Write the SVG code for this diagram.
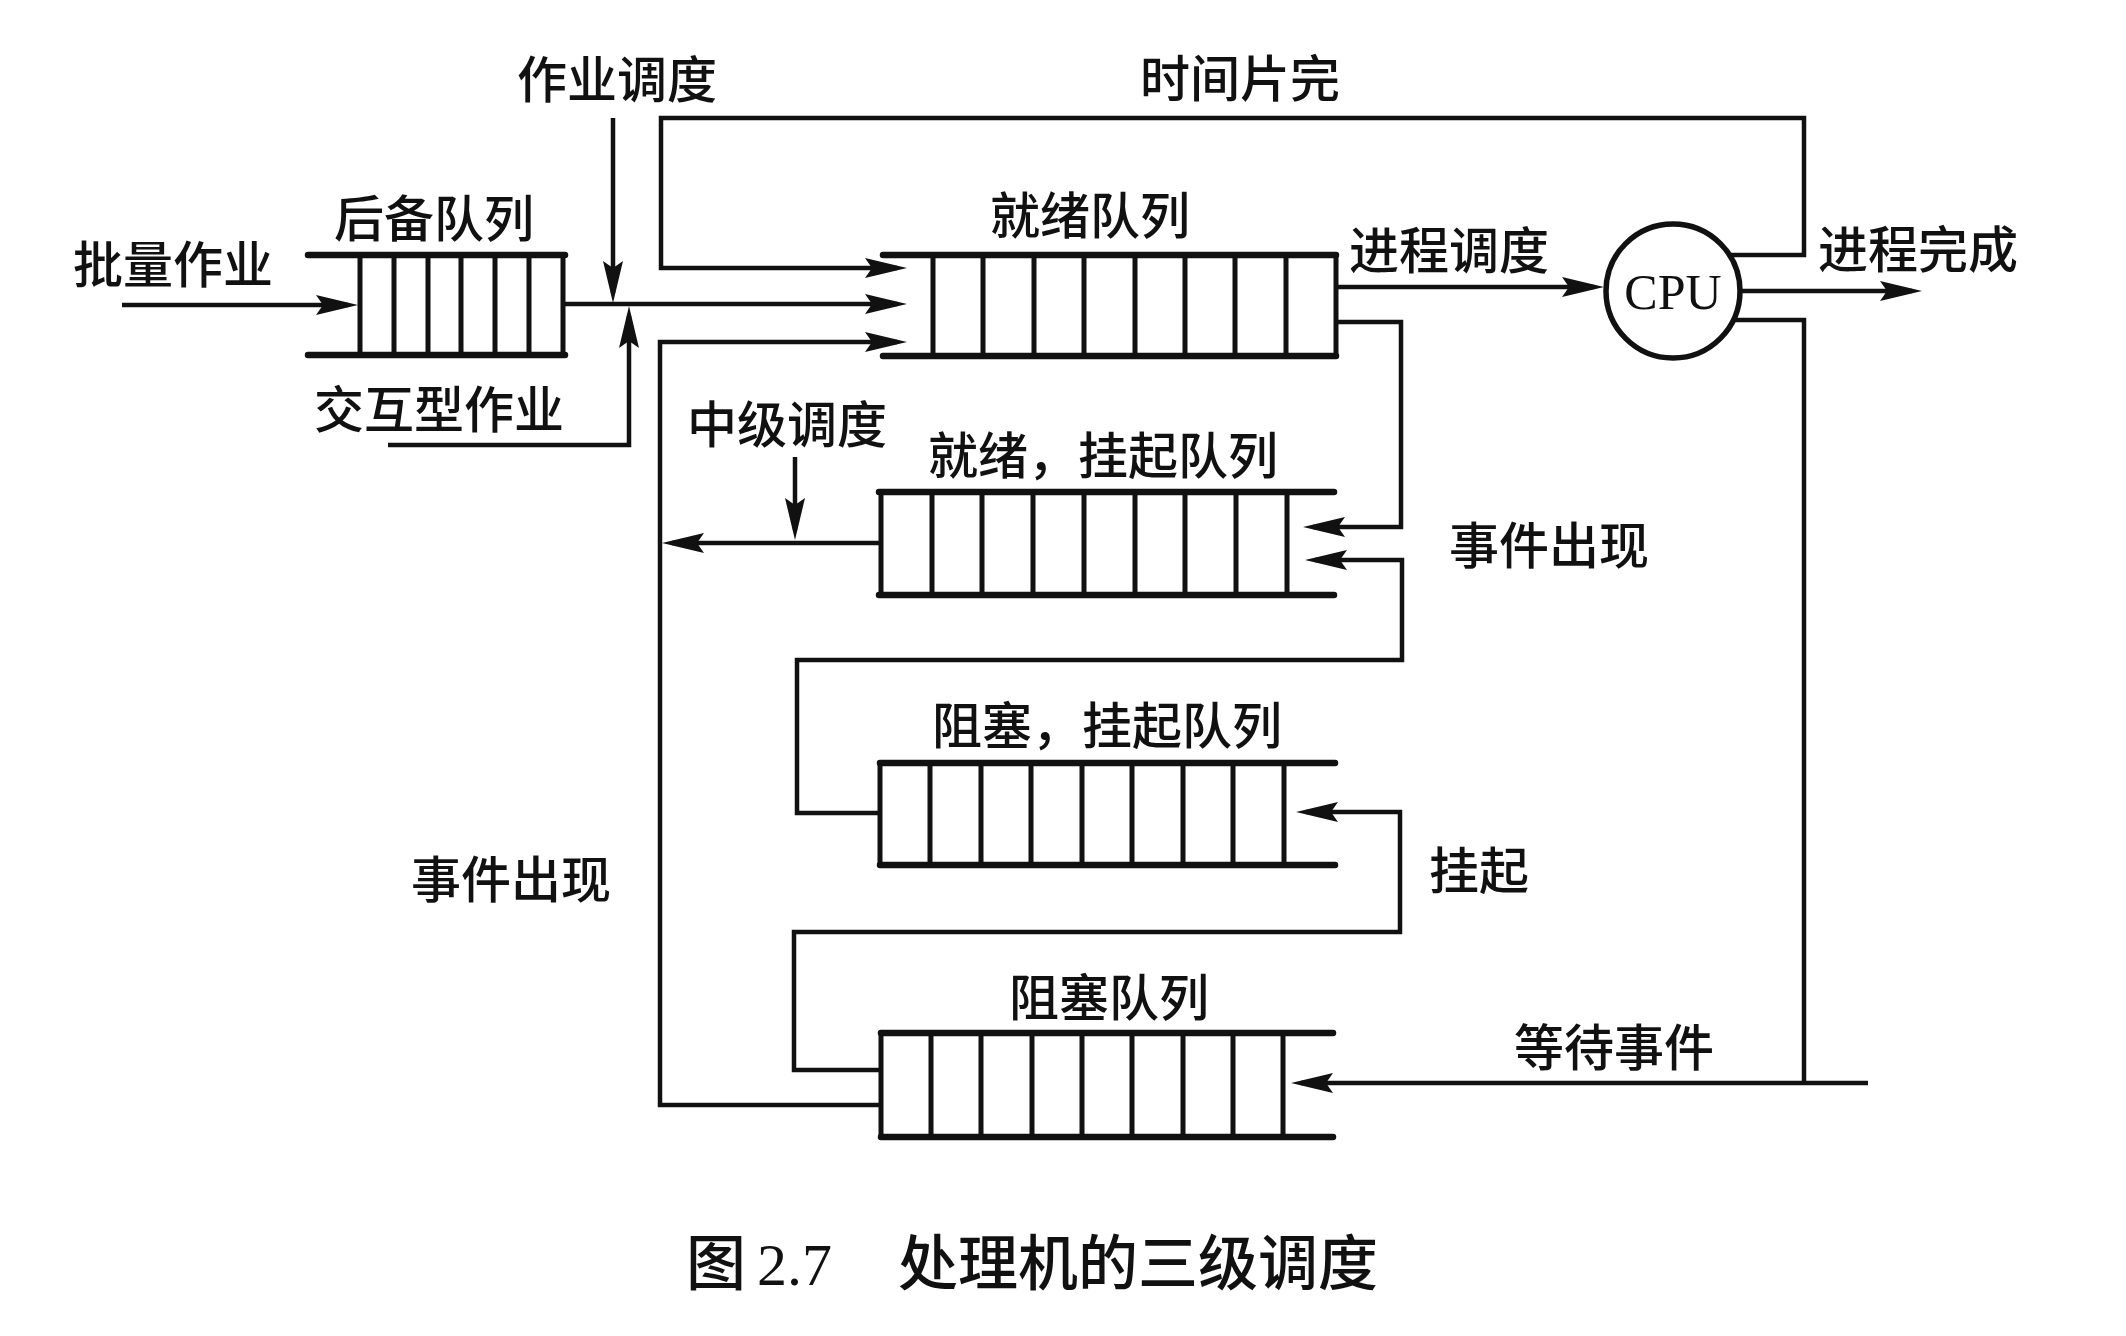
<svg xmlns="http://www.w3.org/2000/svg" width="2126" height="1336" viewBox="0 0 2126 1336">
<style>
.bg{fill:#fff}
.ln{fill:none;stroke:#111;stroke-width:4.5;stroke-linejoin:miter}
.arr{fill:none;stroke:#111;stroke-width:4.5;marker-end:url(#ah)}
.qline{fill:none;stroke:#111;stroke-width:6.5;stroke-linecap:round}
.qdiv{fill:none;stroke:#111;stroke-width:5}
.t{font-family:"Noto Sans CJK SC","Noto Sans",sans-serif;font-size:50px;font-weight:500;fill:#111}
.cap{font-family:"Noto Sans CJK SC","Noto Sans",sans-serif;font-size:60px;font-weight:500;fill:#111}
.serif{font-family:"Liberation Serif","Noto Sans CJK SC",serif;font-weight:400}
</style>
<defs>
<marker id="ah" markerUnits="userSpaceOnUse" markerWidth="44" markerHeight="22" refX="32" refY="11" orient="auto">
<path d="M0,1 L42,11 L0,21 L7,11 Z" fill="#111"/>
</marker>
</defs>
<rect class="bg" x="0" y="0" width="2126" height="1336"/>

<g id="connectors">
<path class="arr" d="M122,305 H348"/>
<path class="arr" d="M565,304 H897"/>
<path class="arr" d="M613,118 V293"/>
<path class="arr" d="M388,445 H629 V316"/>
<path class="arr" d="M1730,255 H1804 V118 H661 V268 H897"/>
<path class="arr" d="M881,1105 H660 V342 H897"/>
<path class="arr" d="M1336,287 H1594"/>
<path class="arr" d="M1740,291 H1912"/>
<path class="arr" d="M1336,322 H1401 V527 H1313"/>
<path class="arr" d="M881,543 H672"/>
<path class="arr" d="M795,457 V530"/>
<path class="arr" d="M880,813 H797 V660 H1402 V560 H1315"/>
<path class="arr" d="M881,1070 H794 V932 H1400 V812 H1306"/>
<path class="arr" d="M1868,1083 H1301"/>
<path class="ln" d="M1733,320 H1804 V1083"/>
</g>

<g id="labels">
<text class="t" x="517" y="98">作业调度</text>
<text class="t" x="1140" y="97">时间片完</text>
<text class="t" x="73" y="283">批量作业</text>
<text class="t" x="314" y="428">交互型作业</text>
<text class="t" x="1349" y="269">进程调度</text>
<text class="t" x="1818" y="268">进程完成</text>
<text class="t" x="687" y="443">中级调度</text>
<text class="t" x="1449" y="564">事件出现</text>
<text class="t" x="1429" y="889">挂起</text>
<text class="t" x="411" y="898">事件出现</text>
<text class="t" x="1514" y="1066">等待事件</text>
</g>

<g id="backup-queue">
<path class="qline" d="M308,255 H565 M308,355 H565"/>
<path class="qdiv" d="M360,255 V355 M394,255 V355 M428,255 V355 M461,255 V355 M495,255 V355 M529,255 V355 M563,255 V355"/>
<text class="t" x="334" y="237">后备队列</text>
</g>

<g id="ready-queue">
<path class="qline" d="M883,255 H1336 M883,356 H1336"/>
<path class="qdiv" d="M933,255 V356 M983,255 V356 M1034,255 V356 M1084,255 V356 M1135,255 V356 M1185,255 V356 M1235,255 V356 M1286,255 V356 M1336,255 V356"/>
<text class="t" x="990" y="234">就绪队列</text>
</g>

<g id="ready-suspend-queue">
<path class="qline" d="M879,492 H1334 M879,595 H1334"/>
<path class="qdiv" d="M881,492 V595 M932,492 V595 M982,492 V595 M1033,492 V595 M1084,492 V595 M1135,492 V595 M1185,492 V595 M1236,492 V595 M1287,492 V595"/>
<text class="t" x="928" y="474">就绪，挂起队列</text>
</g>

<g id="blocked-suspend-queue">
<path class="qline" d="M880,763 H1335 M880,865 H1335"/>
<path class="qdiv" d="M880,763 V865 M930,763 V865 M981,763 V865 M1031,763 V865 M1082,763 V865 M1132,763 V865 M1183,763 V865 M1233,763 V865 M1284,763 V865"/>
<text class="t" x="932" y="744">阻塞，挂起队列</text>
</g>

<g id="blocked-queue">
<path class="qline" d="M881,1033 H1333 M881,1137 H1333"/>
<path class="qdiv" d="M881,1033 V1137 M931,1033 V1137 M981,1033 V1137 M1032,1033 V1137 M1082,1033 V1137 M1132,1033 V1137 M1183,1033 V1137 M1233,1033 V1137 M1283,1033 V1137"/>
<text class="t" x="1009" y="1016">阻塞队列</text>
</g>

<g id="cpu">
<circle cx="1673" cy="291" r="67" fill="#fff" stroke="#111" stroke-width="5.5"/>
<text class="t serif" x="1673" y="309" font-size="53" text-anchor="middle">CPU</text>
</g>

<g id="caption">
<text class="cap" x="686" y="1285">图</text>
<text class="cap serif" x="757" y="1285">2.7</text>
<text class="cap" x="898" y="1285">处理机的三级调度</text>
</g>
</svg>
